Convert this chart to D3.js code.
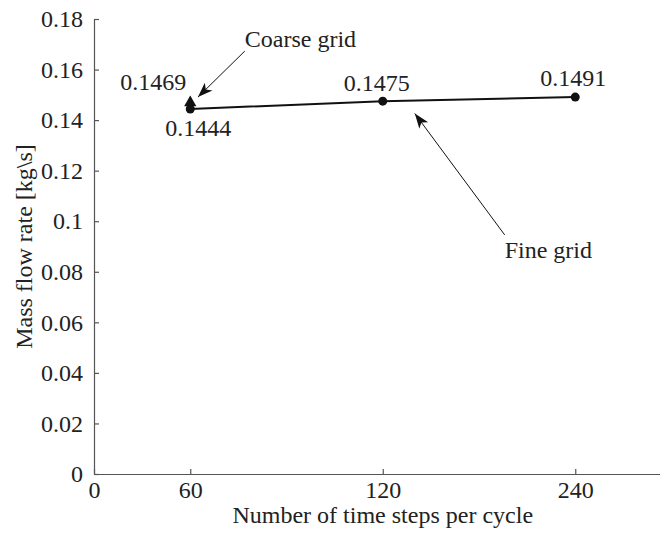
<!DOCTYPE html>
<html>
<head>
<meta charset="utf-8">
<script src="https://cdn.jsdelivr.net/npm/d3@7"></script>
<style>
	body { margin: 0; background: #fff; }
	text { font-family: "Liberation Serif", "Times New Roman", serif; fill: #222; }
</style>
</head>
<body>
<div id="chart"></div>
<script>
// data
var stepCounts = [60, 120, 240];
var fineFlow = [0.1444, 0.1475, 0.1491];
var coarseSteps = [60];
var coarseFlow = [0.1469];
var xTickValues = [0, 60, 120, 240];
var yTickValues = [0, 0.02, 0.04, 0.06, 0.08, 0.1, 0.12, 0.14, 0.16, 0.18];

// annotations, in data units
var annotations = [
	{ label: "Coarse grid", tail: [77, 0.1673], tip: [62.4, 0.1491], text: [77, 0.1690], anchor: "start" },
	{ label: "Fine grid", tail: [196, 0.0946], tip: [140, 0.1426], text: [196, 0.0855], anchor: "start" }
];

var width = 660, height = 534;
var m = { left: 94, top: 19, bottom: 60 };
var unit = 192.5; // spacing between the tick columns

var svg = d3.select("#chart").append("svg")
	.attr("width", width)
	.attr("height", height);

// piecewise x scale: 0, 60, 120, 240 are not evenly spaced in value
var x = d3.scaleLinear()
	.domain([0, 60, 120, 240, 300])
	.range([m.left, m.left + unit * 0.5, m.left + unit * 1.5, m.left + unit * 2.5, m.left + unit * 3]);

var y = d3.scaleLinear()
	.domain([0, 0.18])
	.range([height - m.bottom, m.top]);

// arrow head
svg.append("defs").append("marker")
	.attr("id", "head")
	.attr("viewBox", "-16 -7 18 14")
	.attr("refX", 0)
	.attr("refY", 0)
	.attr("markerWidth", 18)
	.attr("markerHeight", 14)
	.attr("markerUnits", "userSpaceOnUse")
	.attr("orient", "auto")
	.append("path")
	.attr("d", "M0,0L-15,-5.5L-11,0L-15,5.5Z")
	.attr("fill", "#111");

// axes
var xAxis = svg.append("g")
	.attr("transform", "translate(0," + y(0) + ")")
	.call(d3.axisBottom(x).tickValues(xTickValues).tickSizeInner(-5).tickSizeOuter(0).tickPadding(7));

var yAxis = svg.append("g")
	.attr("transform", "translate(" + m.left + ",0)")
	.call(d3.axisLeft(y).tickValues(yTickValues).tickSizeInner(-5).tickSizeOuter(0).tickPadding(11)
		.tickFormat(function(d) { return String(+d.toFixed(2)); }));

[xAxis, yAxis].forEach(function(a) {
	a.attr("font-family", null);
	a.selectAll("path, line").attr("stroke", "#555").attr("stroke-width", 1.2);
	a.selectAll("text").style("font-size", "24px").attr("fill", "#222");
});

// axis titles
svg.append("text")
	.attr("x", x(120))
	.attr("y", height - 11)
	.attr("text-anchor", "middle")
	.style("font-size", "24px")
	.text("Number of time steps per cycle");

svg.append("text")
	.attr("transform", "translate(32," + (y(0) + y(0.18)) / 2 + ") rotate(-90)")
	.attr("text-anchor", "middle")
	.style("font-size", "24px")
	.text("Mass flow rate [kg\\s]");

// fine grid line and points
var fine = stepCounts.map(function(s, i) { return { s: s, v: fineFlow[i] }; });
var line = d3.line()
	.x(function(d) { return x(d.s); })
	.y(function(d) { return y(d.v); });

svg.append("path")
	.datum(fine)
	.attr("d", line)
	.attr("fill", "none")
	.attr("stroke", "#111")
	.attr("stroke-width", 2);

svg.append("g").selectAll("circle")
	.data(fine)
	.enter().append("circle")
	.attr("cx", function(d) { return x(d.s); })
	.attr("cy", function(d) { return y(d.v); })
	.attr("r", 4.5)
	.attr("fill", "#111");

// coarse grid point
var coarse = coarseSteps.map(function(s, i) { return { s: s, v: coarseFlow[i] }; });
svg.append("g").selectAll("path")
	.data(coarse)
	.enter().append("path")
	.attr("transform", function(d) { return "translate(" + x(d.s) + "," + y(d.v) + ")"; })
	.attr("d", d3.symbol().type(d3.symbolTriangle).size(65))
	.attr("fill", "#111");

// value labels
var labelOffsets = [[8, 27], [-6, -10], [-2, -11]];
svg.append("g").selectAll("text")
	.data(fine)
	.enter().append("text")
	.attr("x", function(d, i) { return x(d.s) + labelOffsets[i][0]; })
	.attr("y", function(d, i) { return y(d.v) + labelOffsets[i][1]; })
	.attr("text-anchor", "middle")
	.style("font-size", "24px")
	.text(function(d) { return d.v.toFixed(4); });

svg.append("g").selectAll("text")
	.data(coarse)
	.enter().append("text")
	.attr("x", function(d) { return x(d.s) - 37; })
	.attr("y", function(d) { return y(d.v) - 13; })
	.attr("text-anchor", "middle")
	.style("font-size", "24px")
	.text(function(d) { return d.v.toFixed(4); });

// annotation arrows
var notes = svg.append("g");
notes.selectAll("line")
	.data(annotations)
	.enter().append("line")
	.attr("x1", function(d) { return x(d.tail[0]); })
	.attr("y1", function(d) { return y(d.tail[1]); })
	.attr("x2", function(d) { return x(d.tip[0]); })
	.attr("y2", function(d) { return y(d.tip[1]); })
	.attr("stroke", "#111")
	.attr("stroke-width", 1)
	.attr("marker-end", "url(#head)");

notes.selectAll("text")
	.data(annotations)
	.enter().append("text")
	.attr("x", function(d) { return x(d.text[0]); })
	.attr("y", function(d) { return y(d.text[1]); })
	.attr("text-anchor", function(d) { return d.anchor; })
	.style("font-size", "24px")
	.text(function(d) { return d.label; });
</script>
</body>
</html>
